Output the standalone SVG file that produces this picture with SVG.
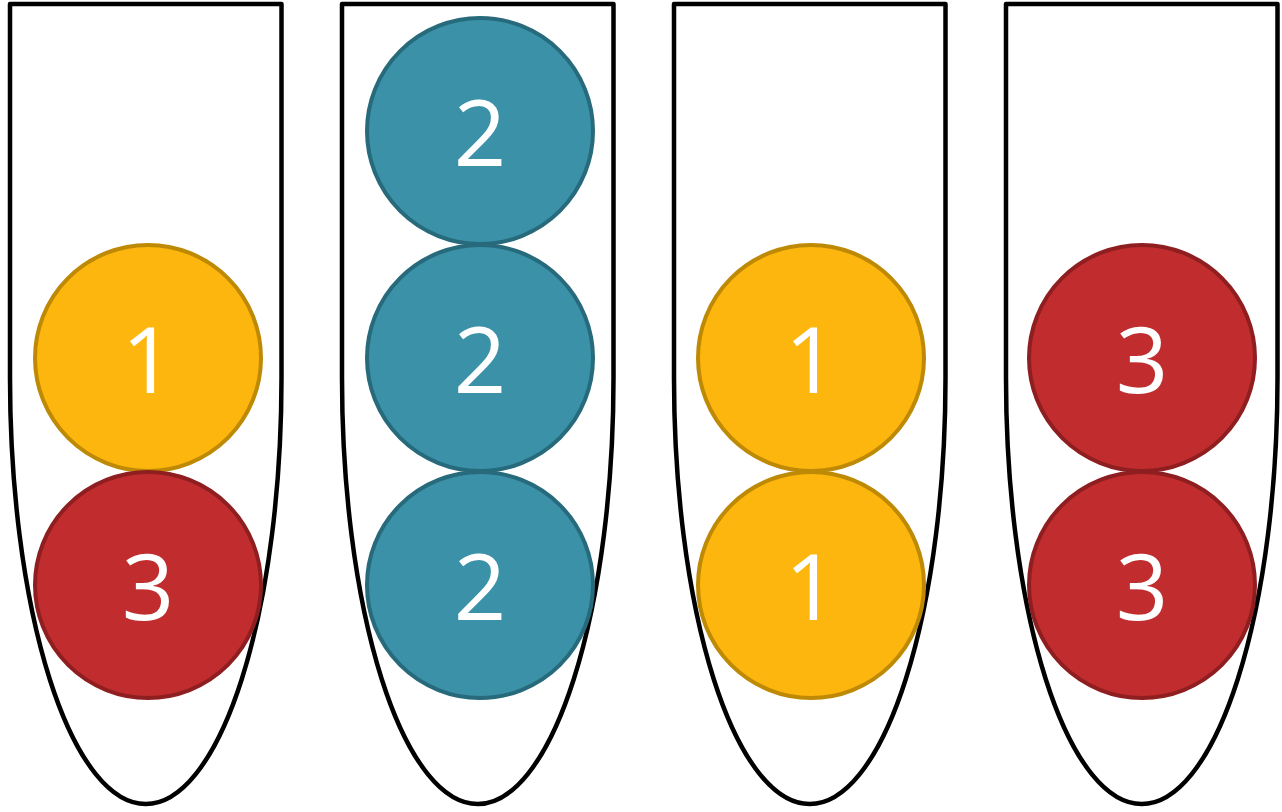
<svg xmlns="http://www.w3.org/2000/svg" width="1282" height="812" viewBox="0 0 1282 812">
<defs>
<style>
.tube{fill:#fff;stroke:#000;stroke-width:4.5;stroke-linejoin:round}
.y{fill:#FDB60D;stroke:#BE8A05;stroke-width:4}
.r{fill:#C12D2F;stroke:#8F1E20;stroke-width:4}
.b{fill:#3A91A8;stroke:#276A7B;stroke-width:4}
.t{fill:#fff;font-family:"Open Sans","Noto Sans","DejaVu Sans",sans-serif;font-size:92px;text-anchor:middle}
</style>
<path id="tubeShape" class="tube" d="M0,378 L0,4 L271.5,4 L271.5,378 A135.75,426 0 0 1 0,378 Z"/>
</defs>
<rect width="1282" height="812" fill="#fff"/>
<g id="tube1">
<use href="#tubeShape" x="10"/>
<g id="t1b1"><circle class="y" cx="148" cy="358" r="113"/><text class="t" x="148" y="393">1</text></g>
<g id="t1b2"><circle class="r" cx="148" cy="585" r="113"/><text class="t" x="148" y="620">3</text></g>
</g>
<g id="tube2">
<use href="#tubeShape" x="342"/>
<g id="t2b1"><circle class="b" cx="480" cy="131" r="113"/><text class="t" x="480" y="166">2</text></g>
<g id="t2b2"><circle class="b" cx="480" cy="358" r="113"/><text class="t" x="480" y="393">2</text></g>
<g id="t2b3"><circle class="b" cx="480" cy="585" r="113"/><text class="t" x="480" y="620">2</text></g>
</g>
<g id="tube3">
<use href="#tubeShape" x="674"/>
<g id="t3b1"><circle class="y" cx="811" cy="358" r="113"/><text class="t" x="811" y="393">1</text></g>
<g id="t3b2"><circle class="y" cx="811" cy="585" r="113"/><text class="t" x="811" y="620">1</text></g>
</g>
<g id="tube4">
<use href="#tubeShape" x="1006"/>
<g id="t4b1"><circle class="r" cx="1142" cy="358" r="113"/><text class="t" x="1142" y="393">3</text></g>
<g id="t4b2"><circle class="r" cx="1142" cy="585" r="113"/><text class="t" x="1142" y="620">3</text></g>
</g>
<g id="connectors"/>
</svg>
